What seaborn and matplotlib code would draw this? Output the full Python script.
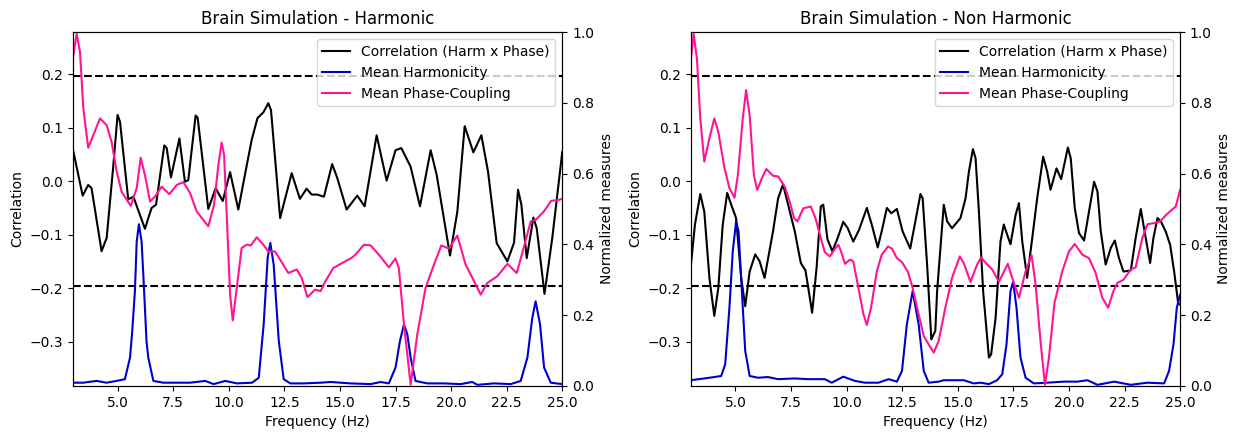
# Grafica de correlacion armonicidad x acoplamiento de fase (simulacion cerebral)
import numpy as np
import matplotlib
matplotlib.use("Agg")
import matplotlib.pyplot as plt
import seaborn as sns

UMBRAL = 0.196

# ---------------- Panel Harmonic ----------------
harm_corr_f = [3.0, 3.43, 3.68, 3.83, 4.28, 4.51, 4.81, 5.00, 5.11, 5.48, 5.71, 6.23, 6.53, 6.73,
               7.10, 7.21, 7.40, 7.78, 8.03, 8.18, 8.51, 8.60, 9.08, 9.41, 9.73, 10.06, 10.43,
               10.81, 11.03, 11.29, 11.56, 11.78, 11.90, 12.31, 12.83, 13.20, 13.50, 13.73,
               13.98, 14.28, 14.65, 14.88, 15.30, 15.78, 16.11, 16.65, 17.10, 17.50, 17.76,
               18.18, 18.60, 19.08, 19.35, 19.95, 20.28, 20.61, 21.00, 21.36, 21.66, 22.05,
               22.53, 22.83, 23.01, 23.16, 23.40, 23.70, 23.85, 24.20, 24.55, 25.0]
harm_corr = [0.058, -0.027, -0.007, -0.013, -0.131, -0.106, 0.030, 0.124, 0.111, -0.034, -0.029,
             -0.089, -0.050, -0.044, 0.067, 0.062, 0.007, 0.080, -0.001, 0.002, 0.123, 0.119,
             -0.052, -0.013, -0.037, 0.017, -0.053, 0.030, 0.077, 0.118, 0.129, 0.146, 0.133,
             -0.069, 0.015, -0.033, -0.014, -0.025, -0.025, -0.029, 0.032, 0.006, -0.053,
             -0.027, -0.047, 0.086, 0.001, 0.058, 0.062, 0.027, -0.047, 0.058, 0.012, -0.139,
             -0.057, 0.103, 0.054, 0.086, 0.018, -0.116, -0.150, -0.115, -0.016, -0.044,
             -0.144, -0.068, -0.088, -0.211, -0.106, 0.055]

harm_h_f = [3.0, 3.45, 4.05, 4.50, 4.95, 5.33, 5.56, 5.66, 5.78, 5.86, 5.96, 6.08, 6.15, 6.23,
            6.30, 6.38, 6.61, 7.06, 7.66, 8.26, 8.94, 9.32, 9.84, 10.37, 11.05, 11.35, 11.57,
            11.75, 11.87, 12.02, 12.25, 12.47, 12.77, 13.38, 14.13, 14.58, 15.48, 16.38, 16.83,
            17.20, 17.50, 17.70, 17.88, 18.03, 18.18, 18.40, 18.93, 19.68, 20.43, 20.95, 21.18,
            21.93, 22.68, 23.13, 23.43, 23.65, 23.80, 24.00, 24.18, 24.48, 25.0]
harm_h = [0.009, 0.009, 0.014, 0.009, 0.014, 0.019, 0.080, 0.155, 0.268, 0.408, 0.457, 0.408,
          0.324, 0.221, 0.127, 0.080, 0.014, 0.009, 0.009, 0.009, 0.014, 0.005, 0.014, 0.007,
          0.009, 0.023, 0.174, 0.362, 0.404, 0.343, 0.127, 0.019, 0.007, 0.007, 0.009, 0.011,
          0.007, 0.005, 0.011, 0.007, 0.052, 0.127, 0.174, 0.146, 0.080, 0.014, 0.007, 0.007,
          0.005, 0.011, 0.003, 0.007, 0.005, 0.014, 0.080, 0.192, 0.239, 0.174, 0.052, 0.009,
          0.005]

harm_pc_f = [3.0, 3.16, 3.31, 3.46, 3.68, 3.91, 4.21, 4.51, 4.73, 4.96, 5.18, 5.59, 5.86, 6.04,
             6.23, 6.46, 6.68, 6.98, 7.33, 7.66, 7.96, 8.26, 8.56, 8.86, 9.08, 9.34, 9.53, 9.68,
             9.79, 9.94, 10.06, 10.18, 10.36, 10.58, 10.81, 10.99, 11.26, 11.53, 11.78, 12.08,
             12.31, 12.68, 13.06, 13.28, 13.54, 13.88, 14.13, 14.35, 14.70, 15.18, 15.55, 15.70,
             16.08, 16.38, 16.75, 17.20, 17.50, 17.65, 17.88, 18.18, 18.48, 18.85, 19.23, 19.56,
             19.90, 20.28, 20.65, 21.03, 21.33, 21.63, 22.08, 22.53, 22.95, 23.28, 23.58, 23.80,
             24.17, 24.50, 24.85, 25.0]
harm_pc = [0.93, 0.995, 0.944, 0.784, 0.673, 0.709, 0.756, 0.737, 0.690, 0.606, 0.549, 0.509,
           0.559, 0.645, 0.596, 0.521, 0.535, 0.563, 0.542, 0.568, 0.576, 0.545, 0.493, 0.469,
           0.451, 0.512, 0.624, 0.688, 0.653, 0.437, 0.258, 0.185, 0.277, 0.390, 0.399, 0.397,
           0.420, 0.401, 0.380, 0.380, 0.357, 0.319, 0.329, 0.305, 0.251, 0.272, 0.268, 0.296,
           0.333, 0.350, 0.363, 0.371, 0.399, 0.397, 0.371, 0.335, 0.360, 0.333, 0.174, 0.003,
           0.146, 0.277, 0.343, 0.397, 0.388, 0.425, 0.343, 0.296, 0.258, 0.291, 0.310, 0.345,
           0.319, 0.394, 0.465, 0.469, 0.493, 0.523, 0.526, 0.529]

# ---------------- Panel Non Harmonic ----------------
nonh_corr_f = [3.0, 3.18, 3.42, 3.60, 3.83, 4.05, 4.23, 4.43, 4.63, 4.81, 5.03, 5.26, 5.44, 5.64,
               5.89, 6.09, 6.31, 6.69, 6.92, 7.14, 7.37, 7.67, 7.94, 8.15, 8.30, 8.45, 8.65, 8.84,
               8.95, 9.14, 9.36, 9.60, 9.85, 10.05, 10.30, 10.56, 10.91, 11.13, 11.40, 11.61,
               11.81, 12.01, 12.26, 12.52, 12.86, 13.12, 13.32, 13.42, 13.62, 13.81, 13.99,
               14.07, 14.37, 14.52, 14.74, 15.12, 15.35, 15.50, 15.68, 15.80, 15.95, 16.14,
               16.40, 16.50, 16.70, 16.92, 17.07, 17.22, 17.37, 17.60, 17.75, 17.90, 18.12,
               18.35, 18.57, 18.84, 19.02, 19.17, 19.44, 19.65, 19.95, 20.08, 20.26, 20.45,
               20.68, 20.90, 21.13, 21.28, 21.43, 21.65, 21.88, 22.06, 22.25, 22.45, 22.78,
               23.00, 23.23, 23.45, 23.65, 23.80, 23.98, 24.13, 24.35, 24.55, 24.73, 24.91, 25.0]
nonh_corr = [-0.156, -0.081, -0.024, -0.057, -0.181, -0.252, -0.200, -0.081, -0.022, -0.044,
             -0.069, -0.181, -0.234, -0.169, -0.137, -0.150, -0.181, -0.094, -0.032, -0.006,
             -0.044, -0.094, -0.153, -0.167, -0.206, -0.246, -0.162, -0.047, -0.044, -0.109,
             -0.131, -0.106, -0.076, -0.088, -0.113, -0.091, -0.050, -0.081, -0.124, -0.088,
             -0.050, -0.060, -0.052, -0.094, -0.126, -0.069, -0.024, -0.032, -0.156, -0.296,
             -0.280, -0.206, -0.044, -0.075, -0.088, -0.069, -0.032, 0.018, 0.060, 0.043,
             -0.057, -0.206, -0.330, -0.324, -0.256, -0.113, -0.081, -0.100, -0.118, -0.063,
             -0.041, -0.113, -0.181, -0.106, -0.032, 0.046, 0.018, -0.016, 0.024, 0.004, 0.063,
             0.043, -0.050, -0.097, -0.111, -0.057, -0.001, -0.019, -0.094, -0.156, -0.125,
             -0.111, -0.144, -0.169, -0.167, -0.106, -0.052, -0.106, -0.153, -0.106, -0.069,
             -0.075, -0.094, -0.119, -0.169, -0.228, -0.231]

nonh_h_f = [3.0, 3.60, 4.05, 4.36, 4.54, 4.73, 4.88, 5.03, 5.14, 5.29, 5.44, 5.64, 6.01, 6.46,
            6.92, 7.67, 8.27, 9.02, 9.33, 9.85, 10.38, 10.83, 11.43, 11.89, 12.26, 12.49, 12.71,
            12.97, 13.24, 13.47, 13.69, 14.14, 14.37, 15.27, 15.72, 16.02, 16.40, 16.77, 17.00,
            17.19, 17.37, 17.49, 17.64, 17.82, 18.05, 18.42, 19.02, 19.77, 20.38, 20.83, 21.28,
            22.03, 22.78, 23.53, 24.28, 24.50, 24.70, 24.85, 25.0]
nonh_h = [0.016, 0.021, 0.025, 0.028, 0.061, 0.221, 0.380, 0.465, 0.437, 0.268, 0.099, 0.028,
          0.023, 0.025, 0.019, 0.021, 0.019, 0.019, 0.009, 0.026, 0.014, 0.009, 0.009, 0.019,
          0.012, 0.042, 0.174, 0.268, 0.174, 0.042, 0.009, 0.012, 0.016, 0.016, 0.007, 0.009,
          0.005, 0.016, 0.033, 0.117, 0.268, 0.294, 0.221, 0.080, 0.023, 0.007, 0.009, 0.012,
          0.012, 0.016, 0.003, 0.012, 0.003, 0.009, 0.007, 0.042, 0.117, 0.221, 0.258]

nonh_pc_f = [3.0, 3.12, 3.27, 3.42, 3.60, 3.83, 4.05, 4.23, 4.51, 4.73, 4.96, 5.11, 5.33, 5.48,
             5.64, 5.83, 5.98, 6.19, 6.39, 6.69, 6.92, 7.22, 7.44, 7.64, 7.79, 8.05, 8.39, 8.60,
             8.84, 9.02, 9.25, 9.48, 9.63, 9.75, 9.93, 10.15, 10.30, 10.53, 10.76, 10.91, 11.10,
             11.36, 11.58, 11.86, 12.04, 12.26, 12.49, 12.76, 12.97, 13.24, 13.47, 13.69, 13.92,
             14.14, 14.44, 14.74, 15.09, 15.27, 15.57, 15.87, 16.05, 16.32, 16.55, 16.85, 17.07,
             17.25, 17.45, 17.75, 18.05, 18.32, 18.50, 18.72, 18.92, 19.10, 19.35, 19.70, 20.00,
             20.26, 20.60, 20.90, 21.20, 21.50, 21.76, 22.00, 22.18, 22.45, 22.78, 23.00, 23.30,
             23.53, 23.83, 24.10, 24.35, 24.58, 24.80, 25.0]
nonh_pc = [0.925, 0.995, 0.925, 0.756, 0.634, 0.700, 0.756, 0.718, 0.615, 0.559, 0.532, 0.596,
           0.756, 0.836, 0.765, 0.596, 0.554, 0.587, 0.613, 0.594, 0.592, 0.563, 0.521, 0.474,
           0.465, 0.502, 0.507, 0.474, 0.418, 0.378, 0.366, 0.388, 0.399, 0.380, 0.345, 0.357,
           0.352, 0.277, 0.202, 0.172, 0.221, 0.324, 0.371, 0.394, 0.388, 0.361, 0.350, 0.322,
           0.277, 0.202, 0.141, 0.117, 0.094, 0.127, 0.221, 0.305, 0.366, 0.347, 0.294, 0.343,
           0.363, 0.343, 0.329, 0.294, 0.322, 0.345, 0.305, 0.249, 0.324, 0.369, 0.286, 0.127,
           0.003, 0.080, 0.235, 0.324, 0.380, 0.401, 0.371, 0.361, 0.319, 0.249, 0.221, 0.268,
           0.291, 0.300, 0.329, 0.335, 0.418, 0.457, 0.460, 0.465, 0.482, 0.495, 0.507, 0.554]

COLOR_CORR = "black"
COLOR_HARM = "mediumblue"
COLOR_PC = "deeppink"


def plot_panel(ax, title, corr_f, corr, h_f, h, pc_f, pc):
    """Dibuja un panel con la correlacion y las medidas normalizadas en eje gemelo"""
    sns.lineplot(x=corr_f, y=corr, ax=ax, color=COLOR_CORR, linewidth=1.5,
                 label="Correlation (Harm x Phase)", legend=False)
    ax.axhline(UMBRAL, color="black", linestyle="--", linewidth=1.5)
    ax.axhline(-UMBRAL, color="black", linestyle="--", linewidth=1.5)
    ax.set_xlim(3, 25)
    ax.set_ylim(-0.383, 0.279)
    ax.set_xlabel("Frequency (Hz)")
    ax.set_ylabel("Correlation")
    ax.set_title(title)

    ax2 = ax.twinx()
    sns.lineplot(x=h_f, y=h, ax=ax2, color=COLOR_HARM, linewidth=1.5,
                 label="Mean Harmonicity", legend=False)
    sns.lineplot(x=pc_f, y=pc, ax=ax2, color=COLOR_PC, linewidth=1.5,
                 label="Mean Phase-Coupling", legend=False)
    ax2.set_ylim(0, 1)
    ax2.set_ylabel("Normalized measures")

    # Leyenda combinada de ambos ejes
    h1, l1 = ax.get_legend_handles_labels()
    h2, l2 = ax2.get_legend_handles_labels()
    ax2.legend(h1 + h2, l1 + l2, loc="upper right")


def main():
    fig, axes = plt.subplots(1, 2, figsize=(12.39, 4.4), dpi=100)
    fig.subplots_adjust(left=0.059, right=0.9525, bottom=0.123, top=0.927, wspace=0.263)

    plot_panel(axes[0], "Brain Simulation - Harmonic",
               harm_corr_f, harm_corr, harm_h_f, harm_h, harm_pc_f, harm_pc)
    plot_panel(axes[1], "Brain Simulation - Non Harmonic",
               nonh_corr_f, nonh_corr, nonh_h_f, nonh_h, nonh_pc_f, nonh_pc)

    fig.savefig("out.png", dpi=100)
    plt.close(fig)


if __name__ == "__main__":
    main()
